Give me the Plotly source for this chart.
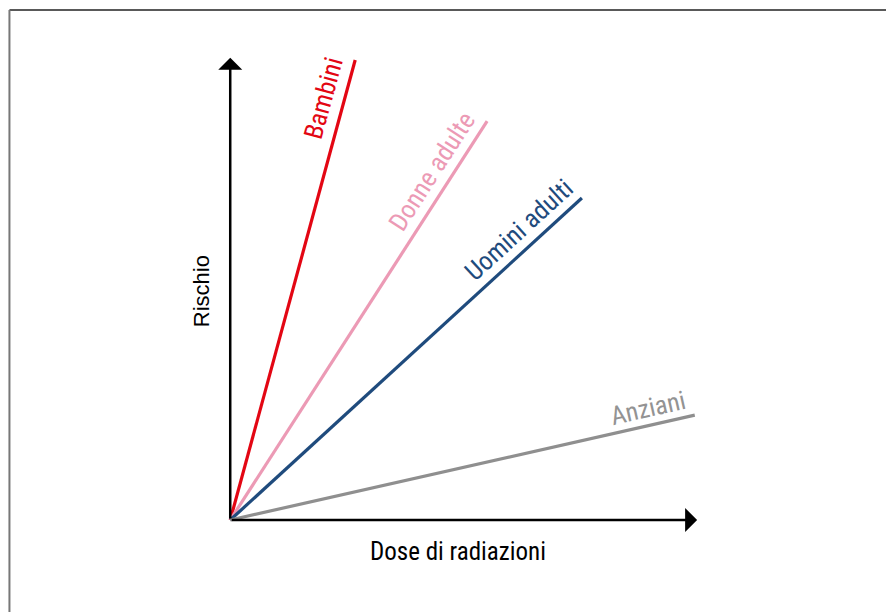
import math
import plotly.graph_objects as go

# ---- data ----
groups = ["Bambini", "Donne adulte", "Uomini adulti", "Anziani"]
dose_end = [2.69, 5.53, 7.57, 10.0]        # x at line end
rischio_end = [10.0, 8.67, 7.0, 2.28]      # y at line end
colors = ["#e30613", "#ec9ab5", "#1f4b7d", "#8f8f8f"]
label_colors = ["#e30613", "#ec9ab5", "#1f4b7d", "#939393"]
label_pos = [0.906, 0.849, 0.857, 0.908]   # fraction along line
label_off = [21, 19.5, 19.5, 17.5]         # px away from line
x_title = "Dose di radiazioni"
y_title = "Rischio"

# ---- layout geometry (page body has an 8px margin) ----
OFF = 8
W, H = 894 - OFF, 612 - OFF
X0, Y0 = 230 - OFF, 520 - OFF   # pixel of origin inside figure
PX_X, PX_Y = 46.5, 46.0         # pixels per data unit
xr = [-0.5, 10.5]
yr = [-0.5, 10.5]
L = X0 + xr[0] * PX_X
R = W - (X0 + xr[1] * PX_X)
B = H - (Y0 - yr[0] * PX_Y)
T = Y0 - yr[1] * PX_Y
PW = W - L - R
PH = H - T - B


def pxx(px):
    # px given in page coordinates
    return (px - OFF - L) / PW


def pxy(py):
    return (H - B - (py - OFF)) / PH


NARROW = "Liberation Sans Narrow, Roboto Condensed, DejaVu Sans Condensed, sans-serif"

fig = go.Figure()
for g, xe, ye, c in zip(groups, dose_end, rischio_end, colors):
    fig.add_trace(go.Scatter(x=[0, xe], y=[0, ye], mode="lines",
                             line=dict(color=c, width=3.2), name=g,
                             hoverinfo="skip", showlegend=False))

annotations = []
# line labels
for g, xe, ye, c, t, off in zip(groups, dose_end, rischio_end, label_colors, label_pos, label_off):
    dxp, dyp = xe * PX_X, ye * PX_Y
    ln = math.hypot(dxp, dyp)
    ang = math.degrees(math.atan2(dyp, dxp))
    nx, ny = -dyp / ln, dxp / ln   # normal (up-left) in plotly y-up coords
    annotations.append(dict(x=xe * t, y=ye * t, xref="x", yref="y", text=g,
                            showarrow=False, textangle=-ang,
                            xanchor="center", yanchor="middle",
                            xshift=nx * off, yshift=ny * off,
                            font=dict(family=NARROW, size=26, color=c)))

# axes arrows
for tip in [dict(x=0, y=10.05), dict(x=10.05, y=0)]:
    annotations.append(dict(**tip, ax=0, ay=0, xref="x", yref="y", axref="x", ayref="y",
                            text="", showarrow=True, arrowhead=1, arrowsize=1.6, arrowwidth=2.5,
                            arrowcolor="black", standoff=0, startstandoff=0))

# axis titles
annotations.append(dict(x=pxx(458), y=pxy(551), xref="paper", yref="paper", text=x_title,
                        xanchor="center", yanchor="middle",
                        showarrow=False, font=dict(family=NARROW, size=25, color="black")))
annotations.append(dict(x=pxx(201), y=pxy(291), xref="paper", yref="paper", text=y_title,
                        xanchor="center", yanchor="middle",
                        showarrow=False, textangle=-90,
                        font=dict(family="Liberation Sans, Arial, sans-serif", size=22, color="black")))

shapes = [
    dict(type="line", xref="paper", yref="paper", x0=pxx(9), x1=pxx(900), y0=pxy(10), y1=pxy(10),
         line=dict(color="#222222", width=1.5)),
    dict(type="line", xref="paper", yref="paper", x0=pxx(9), x1=pxx(9), y0=pxy(10), y1=pxy(620),
         line=dict(color="#777777", width=2)),
]

fig.update_layout(
    width=W, height=H, autosize=False,
    margin=dict(l=L, r=R, t=T, b=B, pad=0),
    paper_bgcolor="white", plot_bgcolor="white",
    xaxis=dict(range=xr, visible=False, fixedrange=True),
    yaxis=dict(range=yr, visible=False, fixedrange=True),
    annotations=annotations, shapes=shapes,
)

fig.write_html("out.html")
